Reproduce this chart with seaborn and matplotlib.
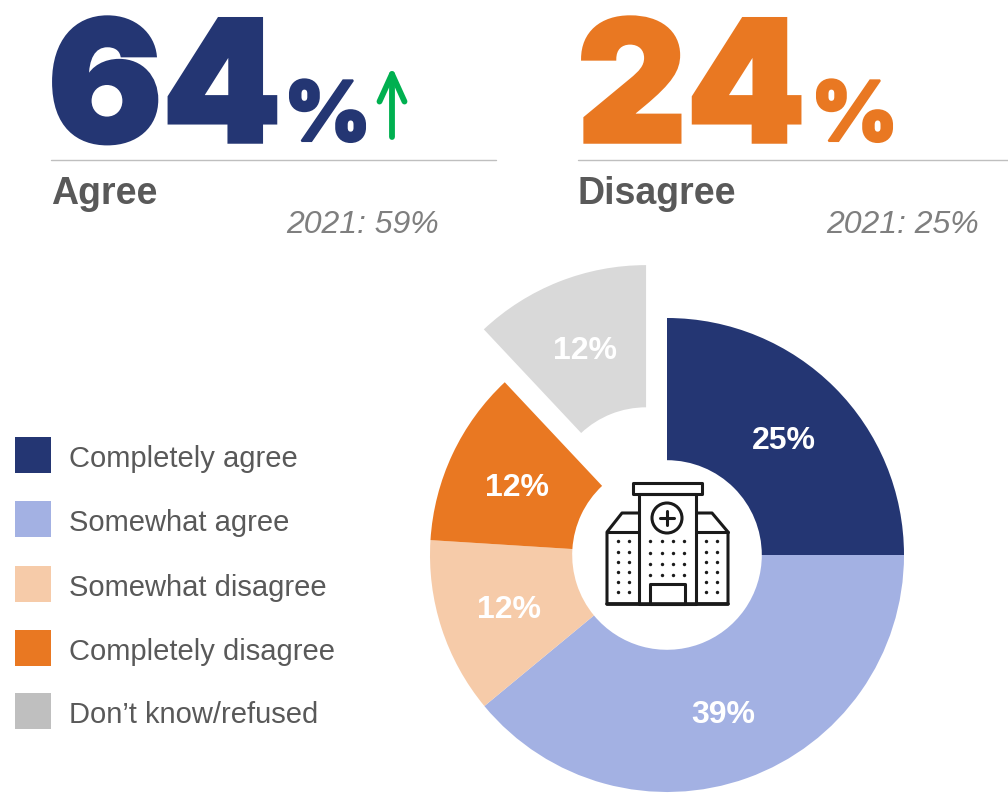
import matplotlib
matplotlib.use("Agg")
import matplotlib.pyplot as plt
import matplotlib.patheffects as pe
from matplotlib.patches import Rectangle, Polygon, Circle
import seaborn as sns

# data
categories = ["Completely agree", "Somewhat agree", "Somewhat disagree", "Completely disagree", "Don\u2019t know/refused"]
values = [25, 39, 12, 12, 12]
explode = [0, 0, 0, 0, 0.24]
pie_colors = sns.color_palette(["#243673", "#A3B1E3", "#F6CBA9", "#E97822", "#D9D9D9"])
legend_colors = sns.color_palette(["#243673", "#A3B1E3", "#F6CBA9", "#E97822", "#BFBFBF"])

sns.set_theme(style="white")
plt.rcParams["font.family"] = ["Liberation Sans", "DejaVu Sans"]

navy = "#243673"
orange = "#E97822"
gray = "#595959"
W, H = 1008, 793

fig = plt.figure(figsize=(W / 100, H / 100), dpi=100, facecolor="white")

# donut, centre (667,555) radius 237 px
ax = fig.add_axes([(667 - 237) / W, 1 - (555 + 237) / H, 474 / W, 474 / H])
wedges, _, autotexts = ax.pie(
    values, colors=pie_colors, explode=explode, startangle=90, counterclock=False,
    radius=1, autopct="%.0f%%", pctdistance=0.7,
    wedgeprops=dict(width=0.6, linewidth=0),
    textprops=dict(color="white", fontsize=23, fontweight="bold"),
)
for t in autotexts:
    t.set_va("center_baseline")
ax.set_xlim(-1, 1)
ax.set_ylim(-1, 1)

# overlay in pixel coordinates
ov = fig.add_axes([0, 0, 1, 1], zorder=5)
ov.set_xlim(0, W)
ov.set_ylim(H, 0)
ov.axis("off")
ov.patch.set_alpha(0)


def headline(x, number, pct_x, color, label, old, old_x, line_start, line_end):
    ov.text(x, 142, number, fontsize=122, family="Inter", fontweight=900, color=color,
            ha="left", va="baseline",
            path_effects=[pe.withStroke(linewidth=2.5, foreground=color, joinstyle="miter")])
    ov.text(pct_x, 141, "%", fontsize=60, family="Inter", fontweight=900, color=color,
            ha="left", va="baseline",
            path_effects=[pe.withStroke(linewidth=1.5, foreground=color, joinstyle="miter")])
    ov.plot([line_start, line_end], [160, 160], color="#BFBFBF", lw=1)
    ov.text(line_start, 204, label, fontsize=27, fontweight="bold", color=gray, ha="left", va="baseline")
    ov.text(old_x, 233, old, fontsize=23, style="italic", color="#7F7F7F", ha="left", va="baseline")


headline(48, "64", 284, navy, "Agree", "2021: 59%", 286, 51, 496)
headline(577, "24", 811, orange, "Disagree", "2021: 25%", 826, 578, 1008)

# green arrow
ov.annotate("", xy=(392, 67), xytext=(392, 137),
            arrowprops=dict(arrowstyle="->,head_length=1.1,head_width=0.5", color="#00B050", lw=4.2,
                            mutation_scale=18, shrinkA=0, shrinkB=0))

# legend
ys = [456, 520, 585, 649, 712]
for cat, col, y in zip(categories, legend_colors, ys):
    ov.add_patch(Rectangle((15, y - 19), 36, 36, color=col, lw=0))
    ov.text(69, y, cat, fontsize=21, color=gray, ha="left", va="center_baseline")

# hospital icon
ic = dict(fill=False, edgecolor="#1A1A1A", lw=2.2, joinstyle="round")
ov.add_patch(Rectangle((633, 483), 69, 11, **ic))
ov.add_patch(Rectangle((639, 494), 57, 110, **ic))
ov.add_patch(Polygon([(639, 604), (607, 604), (607, 532), (622, 513), (639, 513)], closed=False, **ic))
ov.add_patch(Polygon([(696, 604), (728, 604), (728, 532), (712, 513), (696, 513)], closed=False, **ic))
ov.plot([607, 639], [532, 532], color="#1A1A1A", lw=2.2)
ov.plot([696, 728], [532, 532], color="#1A1A1A", lw=2.2)
ov.plot([607, 728], [604, 604], color="#1A1A1A", lw=2.6)
ov.add_patch(Circle((667, 518), 15, **ic))
ov.plot([660, 674], [518, 518], color="#1A1A1A", lw=2.2)
ov.plot([667, 667], [511, 525], color="#1A1A1A", lw=2.2)
ov.add_patch(Rectangle((650, 584), 35, 20, **ic))
for xs_, ys_ in [([618, 629], [541, 552, 562, 572, 582, 592]),
                 ([706, 717], [541, 552, 562, 572, 582, 592]),
                 ([650, 662, 673, 684], [541, 553, 564, 575])]:
    for px in xs_:
        ov.scatter([px] * len(ys_), ys_, s=6, color="#1A1A1A", linewidths=0)

fig.savefig("out.png", dpi=100)
